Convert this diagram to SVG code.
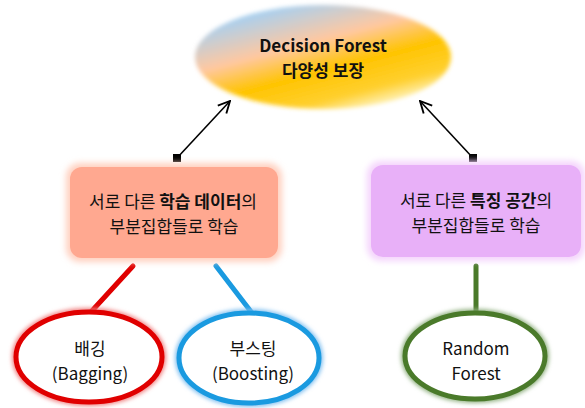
<svg xmlns="http://www.w3.org/2000/svg" width="585" height="408" viewBox="0 0 585 408">
<style>
text{font-family:"Noto Sans CJK KR","Noto Sans",sans-serif;fill:#111;text-anchor:middle;font-size:17px}
.b{font-weight:bold}
.t{font-weight:bold}
.conn{stroke:#000;stroke-width:1.6;fill:none}
.ring{fill:#fff;stroke-width:5}
</style>
<defs>
<linearGradient id="topg" x1="0.2" y1="0.1" x2="0.75" y2="0.95">
<stop offset="0" stop-color="#a8d0f0"/>
<stop offset="0.35" stop-color="#ffc8a0"/>
<stop offset="0.6" stop-color="#ffc400"/>
<stop offset="0.85" stop-color="#ffd030"/>
<stop offset="1" stop-color="#fff4c0"/>
</linearGradient>
<filter id="soft" x="-10%" y="-10%" width="120%" height="120%"><feGaussianBlur stdDeviation="2"/></filter>
<filter id="glow" x="-10%" y="-20%" width="120%" height="140%"><feGaussianBlur stdDeviation="3"/></filter>
<marker id="sq" viewBox="0 0 10 10" refX="5" refY="5" markerWidth="8" markerHeight="8" markerUnits="userSpaceOnUse"><rect width="10" height="10" fill="#000"/></marker>
<marker id="ar" viewBox="0 0 12 12" refX="11" refY="6" markerWidth="14" markerHeight="14" markerUnits="userSpaceOnUse" orient="auto"><path d="M1,1 L11,6 L1,11" fill="none" stroke="#000" stroke-width="1.6"/></marker>
</defs>
<g id="top">
<ellipse cx="323" cy="57" rx="128" ry="52" fill="url(#topg)" filter="url(#soft)"/>
<text x="323" y="52" class="t">Decision Forest</text>
<text x="323" y="77" class="t">다양성 보장</text>
</g>
<g id="connectors">
<line class="conn" x1="177" y1="158" x2="230" y2="101" marker-start="url(#sq)" marker-end="url(#ar)"/>
<line class="conn" x1="473" y1="158" x2="420" y2="101" marker-start="url(#sq)" marker-end="url(#ar)"/>
<line x1="133" y1="266" x2="90" y2="313" stroke="#e00000" stroke-width="5" stroke-linecap="round"/>
<line x1="216" y1="266" x2="252" y2="313" stroke="#1a9ae0" stroke-width="5" stroke-linecap="round"/>
<line x1="476" y1="266" x2="476" y2="313" stroke="#4a7a2a" stroke-width="5" stroke-linecap="round"/>
</g>
<g id="box-left">
<rect x="66" y="163" width="216" height="99" rx="14" fill="#ffd0c0" filter="url(#glow)"/>
<rect x="70" y="167" width="208" height="91" rx="12" fill="#ffa890"/>
<text x="173" y="208">서로 다른 <tspan class="b">학습 데이터</tspan>의</text>
<text x="174" y="233">부분집합들로 학습</text>
</g>
<g id="box-right">
<rect x="367" y="161" width="218" height="100" rx="14" fill="#f4d4fc" filter="url(#glow)"/>
<rect x="371" y="165" width="210" height="92" rx="12" fill="#e8b0f8"/>
<text x="476" y="207">서로 다른 <tspan class="b">특징 공간</tspan>의</text>
<text x="476" y="232">부분집합들로 학습</text>
</g>
<g id="bagging">
<ellipse cx="89" cy="357" rx="73" ry="45" fill="none" stroke="#f08080" stroke-width="8" filter="url(#soft)"/>
<ellipse class="ring" cx="89" cy="357" rx="73" ry="45" stroke="#e00000"/>
<text x="90" y="355">배깅</text>
<text x="90" y="380">(Bagging)</text>
</g>
<g id="boosting">
<ellipse cx="249" cy="358" rx="70" ry="45" fill="none" stroke="#80c0f0" stroke-width="8" filter="url(#soft)"/>
<ellipse class="ring" cx="249" cy="358" rx="70" ry="45" stroke="#1a9ae0"/>
<text x="253" y="355">부스팅</text>
<text x="253" y="380">(Boosting)</text>
</g>
<g id="rf">
<ellipse cx="475" cy="356" rx="70" ry="43" fill="none" stroke="#90b080" stroke-width="8" filter="url(#soft)"/>
<ellipse class="ring" cx="475" cy="356" rx="70" ry="43" stroke="#4a7a2a"/>
<text x="476" y="355">Random</text>
<text x="476" y="380">Forest</text>
</g>
</svg>
